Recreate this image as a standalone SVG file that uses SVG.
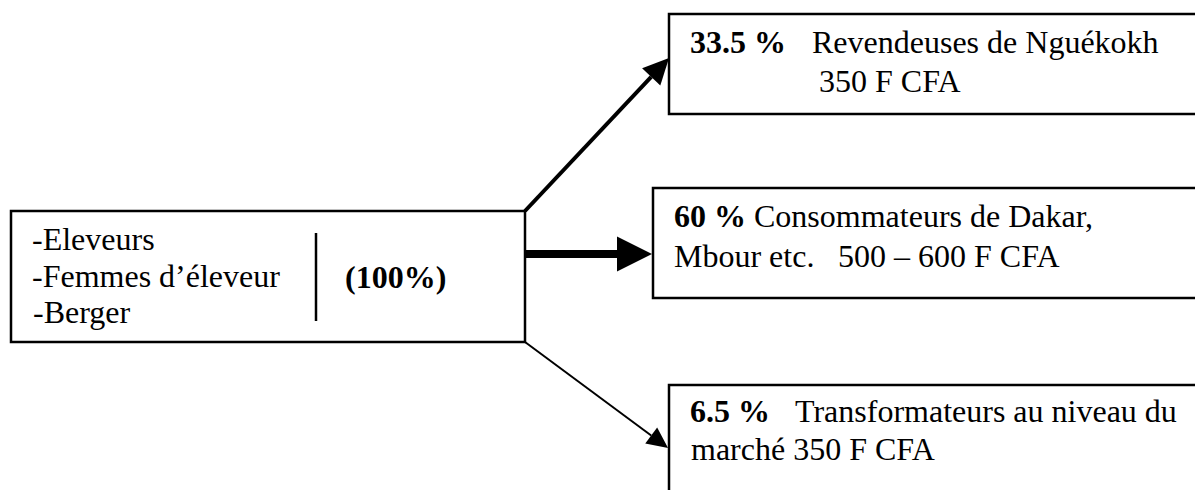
<svg xmlns="http://www.w3.org/2000/svg" width="1195" height="490" viewBox="0 0 1195 490">
<style>
.box{fill:none;stroke:#000;stroke-width:2.5}
.t{font-family:"Liberation Serif","Times New Roman",serif;font-size:32px;fill:#000}
.b{font-weight:bold}
.div{stroke:#000;stroke-width:2.5}
</style>
<defs>
<marker id="ahTop" markerUnits="userSpaceOnUse" viewBox="0 -13 26 26" markerWidth="26" markerHeight="26" refX="0" refY="0" orient="auto" overflow="visible">
<path d="M0,-12.5 L26,0 L0,12.5 z" fill="#000"/>
</marker>
<marker id="ahMid" markerUnits="userSpaceOnUse" viewBox="0 -18 35 36" markerWidth="35" markerHeight="36" refX="0" refY="0" orient="auto" overflow="visible">
<path d="M0,-17.5 L35,0 L0,17.5 z" fill="#000"/>
</marker>
<marker id="ahBot" markerUnits="userSpaceOnUse" viewBox="0 -11 21 22" markerWidth="21" markerHeight="22" refX="0" refY="0" orient="auto" overflow="visible">
<path d="M0,-10 L21,0 L0,10 z" fill="#000"/>
</marker>
</defs>
<rect width="1195" height="490" fill="#fff"/>
<g id="connectors" stroke="#000" fill="none">
<line x1="525" y1="211" x2="651.2" y2="76.9" stroke-width="4" marker-end="url(#ahTop)"/>
<line x1="525" y1="254" x2="617" y2="254" stroke-width="8" marker-end="url(#ahMid)"/>
<line x1="525" y1="342" x2="651.2" y2="435.5" stroke-width="2" marker-end="url(#ahBot)"/>
</g>
<g id="source">
<rect class="box" x="11" y="211" width="514" height="131"/>
<line class="div" x1="316" y1="233" x2="316" y2="321"/>
<text class="t" x="32" y="250">-Eleveurs</text>
<text class="t" x="32" y="287">-Femmes d’éleveur</text>
<text class="t" x="33" y="323">-Berger</text>
<text class="t b" x="345" y="288">(100%)</text>
</g>
<g id="revendeuses">
<rect class="box" x="669" y="14" width="540" height="100"/>
<text class="t"><tspan class="b" x="690" y="53">33.5 %</tspan><tspan x="812" y="53">Revendeuses de Nguékokh</tspan></text>
<text class="t" x="819" y="92">350 F CFA</text>
</g>
<g id="consommateurs">
<rect class="box" x="653" y="188" width="560" height="110"/>
<text class="t" x="674" y="227"><tspan class="b">60 %</tspan> Consommateurs de Dakar,</text>
<text class="t"><tspan x="674" y="267">Mbour etc.</tspan><tspan x="838" y="267">500 – 600 F CFA</tspan></text>
</g>
<g id="transformateurs">
<rect class="box" x="669" y="385" width="540" height="120"/>
<text class="t"><tspan class="b" x="690" y="422">6.5 %</tspan><tspan x="795" y="422">Transformateurs au niveau du</tspan></text>
<text class="t" x="691" y="460">marché 350 F CFA</text>
</g>
</svg>
